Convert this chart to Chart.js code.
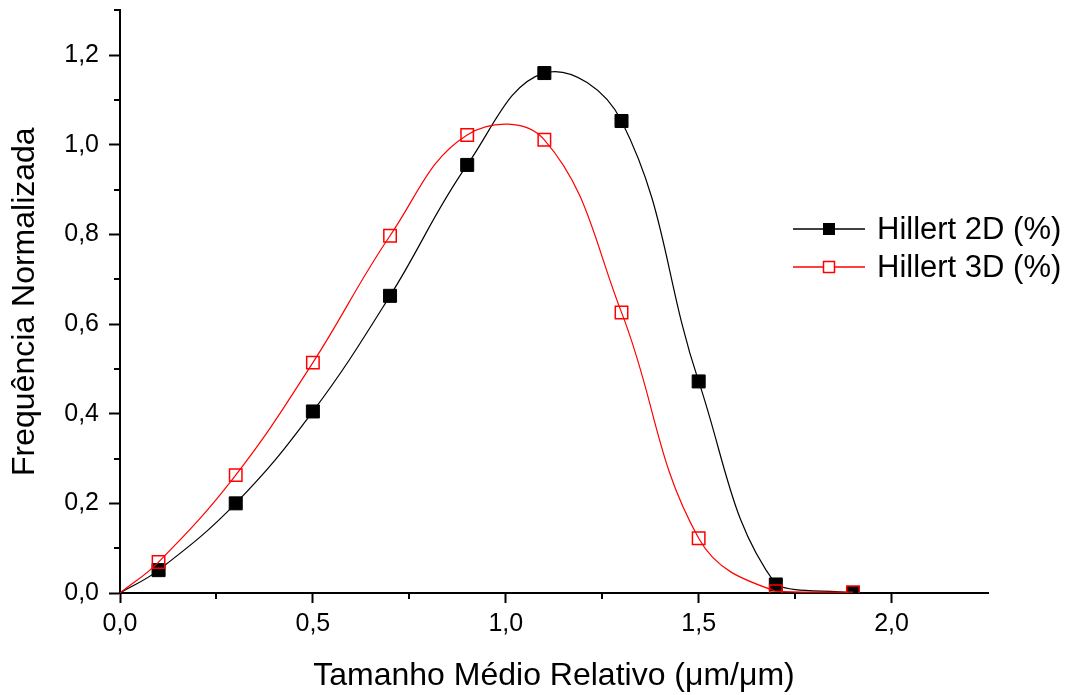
<!DOCTYPE html>
<html>
<head>
<meta charset="utf-8">
<script src="https://cdn.jsdelivr.net/npm/chart.js@4"></script>
<style>
  html, body { margin: 0; padding: 0; background: #fff; }
</style>
</head>
<body>
<canvas id="chart" width="1077" height="695"></canvas>
<script>
// relative size (x) and normalised frequency for each series; first point is the curve origin
const sizes = [0, 0.1, 0.3, 0.5, 0.7, 0.9, 1.1, 1.3, 1.5, 1.7, 1.9];
const hillert2D = [0, 0.051, 0.200, 0.405, 0.663, 0.955, 1.160, 1.053, 0.472, 0.019, 0];
const hillert3D = [0, 0.069, 0.263, 0.514, 0.797, 1.022, 1.011, 0.626, 0.122, 0.004, 0.002];
const seriesNames = ['Hillert 2D (%)', 'Hillert 3D (%)'];
const xTitle = 'Tamanho Médio Relativo (\u03bcm/\u03bcm)';
const yTitle = 'Frequência Normalizada';

const FONT = "'Liberation Sans', Arial, sans-serif";
const fmt = v => v.toFixed(1).replace('.', ',');
const isMajorX = v => Math.abs(v / 0.5 - Math.round(v / 0.5)) < 1e-6;
const isMajorY = v => Math.round(v * 10) % 2 === 0;
const toPoints = ys => sizes.map((x, i) => ({ x: x, y: ys[i] }));

// minor ticks + the line/marker/line legend
const extras = {
  id: 'extras',
  afterDraw(chart) {
    const ctx = chart.ctx;
    const xs = chart.scales.x, ys = chart.scales.y;
    ctx.save();
    ctx.strokeStyle = '#000';
    ctx.lineWidth = 2;
    xs.ticks.forEach(t => {
      if (isMajorX(t.value) || t.value >= xs.max) return;
      const px = Math.round(xs.getPixelForValue(t.value));
      ctx.beginPath(); ctx.moveTo(px, xs.top); ctx.lineTo(px, xs.top + 6); ctx.stroke();
    });
    ys.ticks.forEach(t => {
      if (isMajorY(t.value)) return;
      const py = Math.round(ys.getPixelForValue(t.value));
      ctx.beginPath(); ctx.moveTo(ys.right, py); ctx.lineTo(ys.right - 6, py); ctx.stroke();
    });

    chart.data.datasets.forEach((ds, i) => {
      const y = 229 + i * 38;
      ctx.strokeStyle = ds.borderColor;
      ctx.lineWidth = 1.3;
      ctx.beginPath(); ctx.moveTo(793, y); ctx.lineTo(865, y); ctx.stroke();
      if (ds.pointBackgroundColor !== 'transparent') {
        ctx.fillStyle = ds.pointBackgroundColor;
        ctx.fillRect(823, y - 6, 12, 12);
      } else {
        ctx.fillStyle = '#fff';
        ctx.fillRect(823, y - 6, 12, 12);
        ctx.lineWidth = 1.5;
        ctx.strokeRect(823.5, y - 5.5, 11, 11);
      }
      ctx.fillStyle = '#000';
      ctx.font = '31px ' + FONT;
      ctx.textBaseline = 'middle';
      ctx.textAlign = 'left';
      ctx.fillText(ds.label, 877, y + 1);
    });
    ctx.restore();
  }
};

new Chart(document.getElementById('chart'), {
  type: 'line',
  data: {
    datasets: [
      {
        label: seriesNames[0],
        data: toPoints(hillert2D),
        borderColor: '#000',
        borderWidth: 1.2,
        pointStyle: 'rect',
        pointRadius: c => c.dataIndex === 0 ? 0 : 9.2,
        pointBackgroundColor: '#000',
        pointBorderColor: '#000',
        pointBorderWidth: 1,
        tension: 0.4,
        clip: { left: 30, top: 30, right: 30, bottom: 0 },
        order: 2
      },
      {
        label: seriesNames[1],
        data: toPoints(hillert3D),
        borderColor: '#ff0000',
        borderWidth: 1.2,
        pointStyle: 'rect',
        pointRadius: c => c.dataIndex === 0 ? 0 : 8.8,
        pointBackgroundColor: 'transparent',
        pointBorderColor: '#ff0000',
        pointBorderWidth: 1.5,
        tension: 0.4,
        clip: { left: 30, top: 30, right: 30, bottom: 0 },
        order: 1
      }
    ]
  },
  options: {
    responsive: false,
    animation: false,
    events: [],
    layout: { padding: { top: 9, right: 89, left: 0, bottom: 0 } },
    plugins: {
      legend: { display: false },
      tooltip: { enabled: false }
    },
    scales: {
      x: {
        type: 'linear',
        min: 0,
        max: 2.25,
        border: { color: '#000', width: 2 },
        grid: {
          drawOnChartArea: false,
          tickLength: 10,
          tickWidth: 2,
          tickColor: c => isMajorX(c.tick.value) ? '#000' : 'rgba(0,0,0,0)'
        },
        ticks: {
          stepSize: 0.25,
          autoSkip: false,
          maxRotation: 0,
          padding: 6,
          color: '#000',
          font: { family: FONT, size: 25 },
          callback: v => isMajorX(v) ? fmt(v) : ''
        },
        title: {
          display: true,
          text: xTitle,
          color: '#000',
          font: { family: FONT, size: 32 },
          padding: { top: 0, bottom: 0 }
        },
        afterFit: s => { s.height = 102; s.paddingLeft = 0; s.paddingRight = 0; }
      },
      y: {
        min: 0,
        max: 1.3,
        border: { color: '#000', width: 2 },
        grid: {
          drawOnChartArea: false,
          tickLength: 11,
          tickWidth: 2,
          tickColor: c => isMajorY(c.tick.value) ? '#000' : 'rgba(0,0,0,0)'
        },
        ticks: {
          stepSize: 0.1,
          autoSkip: false,
          padding: 10,
          color: '#000',
          font: { family: FONT, size: 25 },
          callback: v => isMajorY(v) ? fmt(v) : ''
        },
        title: {
          display: true,
          text: yTitle,
          color: '#000',
          font: { family: FONT, size: 32 },
          padding: { top: 6, bottom: 0 }
        },
        afterFit: s => { s.width = 120; s.paddingTop = 0; s.paddingBottom = 0; }
      }
    }
  },
  plugins: [extras]
});
</script>
</body>
</html>
